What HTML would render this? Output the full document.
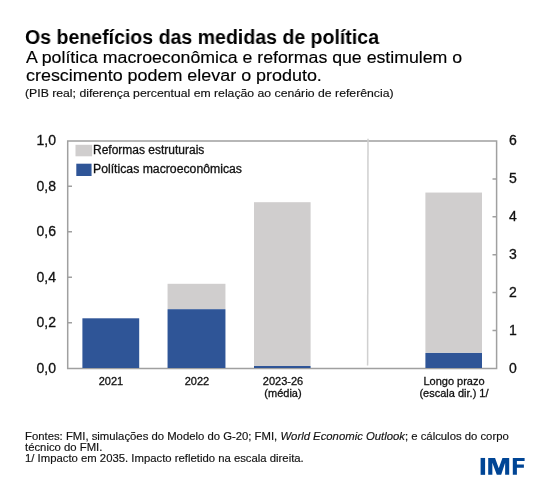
<!DOCTYPE html>
<html><head><meta charset="utf-8">
<style>
html,body{margin:0;padding:0;background:#fff;}
body{-webkit-font-smoothing:antialiased;width:550px;height:484px;position:relative;overflow:hidden;font-family:"Liberation Sans",sans-serif;color:#1a1a1a;}
.t{position:absolute;white-space:nowrap;transform-origin:0 0;}
#title{left:25.3px;transform:scaleX(0.977);top:27.0px;font-size:20px;line-height:20px;font-weight:bold;color:#000;}
#sub1{left:25.7px;top:48.6px;transform:scaleX(1.107);font-size:16px;line-height:18.2px;color:#111;}
#sub2{left:25.5px;top:66.8px;transform:scaleX(1.12);font-size:16px;line-height:18.2px;color:#111;}
#note{left:25px;top:87px;transform:scaleX(1.165);font-size:10.5px;line-height:12px;color:#111;}
.leg{position:absolute;font-size:12px;line-height:14px;color:#111;white-space:nowrap;}
.yl{position:absolute;font-size:14px;line-height:16px;color:#111;text-align:right;width:40px;}
.yr{position:absolute;font-size:14px;line-height:16px;color:#111;}
.xl{position:absolute;font-size:11px;line-height:12.3px;color:#111;text-align:center;width:100px;}
.ft{position:absolute;left:25.4px;transform:scaleX(1.078);font-size:10.5px;line-height:11px;color:#111;white-space:nowrap;transform-origin:0 0;}
div{will-change:transform;}
.leg,.yl,.yr,.xl{-webkit-text-stroke:0.3px #111;}
.ft,#note{-webkit-text-stroke:0.15px #111;}
#sub1,#sub2{-webkit-text-stroke:0.15px #000;color:#000 !important;}
</style></head>
<body>
<div class="t" id="title">Os benefícios das medidas de política</div>
<div class="t" id="sub1">A política macroeconômica e reformas que estimulem o</div>
<div class="t" id="sub2">crescimento podem elevar o produto.</div>
<div class="t" id="note">(PIB real; diferença percentual em relação ao cenário de referência)</div>

<svg width="550" height="484" style="position:absolute;left:0;top:0">
  <path d="M67.7 368.5 V141 H496.6 V368.5 Z" fill="none" stroke="#a0a0a0" stroke-width="1.5"/>
  <path d="M67.7 322.8H72M67.7 277.3H72M67.7 231.8H72M67.7 186.3H72" stroke="#a0a0a0" stroke-width="1.5"/>
  <path d="M492.5 330.5H496.6M492.5 292.6H496.6M492.5 254.7H496.6M492.5 216.8H496.6M492.5 179H496.6" stroke="#a0a0a0" stroke-width="1.5"/>
  <line x1="368" y1="138.7" x2="367.6" y2="365.6" stroke="#d0d0d0" stroke-width="1.5"/>
  <rect x="82.4" y="318.3" width="56.8" height="49.7" fill="#2f5597"/>
  <rect x="167.55" y="283.8" width="57.9" height="25.2" fill="#d0cece"/>
  <rect x="167.55" y="309.2" width="57.9" height="58.8" fill="#2f5597"/>
  <rect x="254" y="202.2" width="56.6" height="163.8" fill="#d0cece"/>
  <rect x="254" y="366" width="56.6" height="2" fill="#2f5597"/>
  <rect x="425.4" y="192.55" width="56.6" height="160.3" fill="#d0cece"/>
  <rect x="425.4" y="352.95" width="56.6" height="15.05" fill="#2f5597"/>
  <rect x="75.5" y="144.8" width="16.6" height="11.5" fill="#d0cece"/>
  <rect x="76.3" y="163.7" width="15.25" height="12.3" fill="#2f5597"/>
</svg>

<div class="leg" style="left:93px;top:143.3px">Reformas estruturais</div>
<div class="leg" style="left:92.5px;top:161.8px;transform:scaleX(1.02);transform-origin:0 0">Políticas macroeconômicas</div>

<div class="yl" style="left:16px;top:132.1px">1,0</div>
<div class="yl" style="left:16px;top:177.7px">0,8</div>
<div class="yl" style="left:16px;top:223.3px">0,6</div>
<div class="yl" style="left:16px;top:268.8px">0,4</div>
<div class="yl" style="left:16px;top:314.4px">0,2</div>
<div class="yl" style="left:16px;top:360.0px">0,0</div>

<div class="yr" style="left:509px;top:132.1px">6</div>
<div class="yr" style="left:509px;top:170.1px">5</div>
<div class="yr" style="left:509px;top:208.1px">4</div>
<div class="yr" style="left:509px;top:246.1px">3</div>
<div class="yr" style="left:509px;top:284.05px">2</div>
<div class="yr" style="left:509px;top:322.0px">1</div>
<div class="yr" style="left:509px;top:360.0px">0</div>

<div class="xl" style="left:60.5px;top:375.1px">2021</div>
<div class="xl" style="left:146.5px;top:375.1px">2022</div>
<div class="xl" style="left:232.5px;top:375.1px">2023-26<br>(média)</div>
<div class="xl" style="left:403.7px;top:375.1px">Longo prazo<br>(escala dir.) 1/</div>

<div class="ft" style="top:431.3px">Fontes: FMI, simulações do Modelo do G-20; FMI, <i>World Economic Outlook</i>; e cálculos do corpo</div>
<div class="ft" style="top:442.3px">técnico do FMI.</div>
<div class="ft" style="top:453.2px">1/ Impacto em 2035. Impacto refletido na escala direita.</div>

<svg width="550" height="484" style="position:absolute;left:0;top:0">
  <g fill="#004595">
    <rect x="480.6" y="457.95" width="4.5" height="16.9"/>
    <path d="M488.2 474.85V457.95H495.06L498.75 468.25L502.43 457.95H509.2V474.85H505.13V462.85L501.2 474.85H496.78L492.36 462.85V474.85Z"/>
    <path d="M512.8 474.85V457.95H524.6V460.9H516.9V464.5H523.9V467.7H516.9V474.85Z"/>
  </g>
</svg>
</body></html>
